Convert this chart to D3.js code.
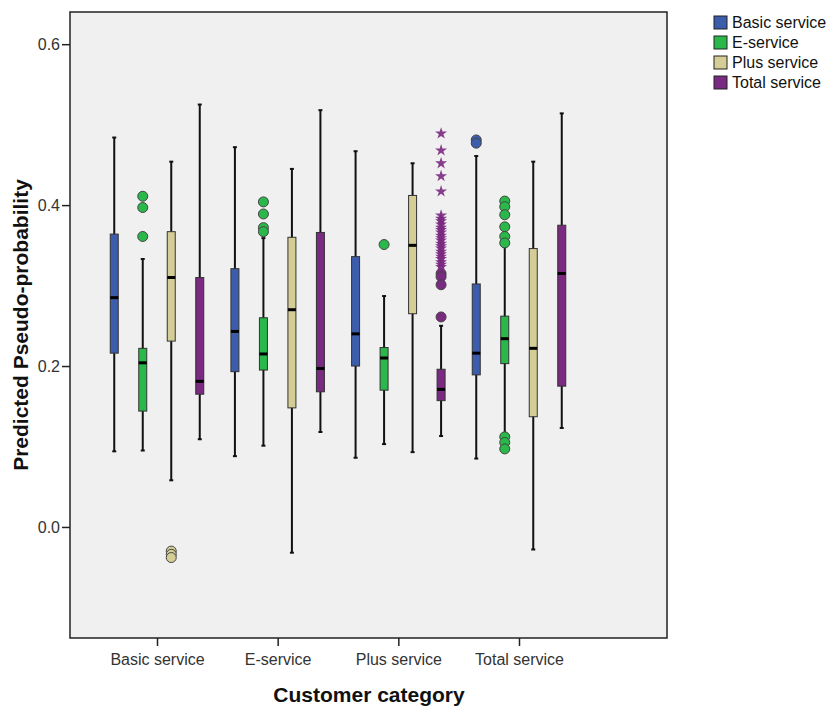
<!DOCTYPE html>
<html>
<head>
<meta charset="utf-8">
<script src="https://cdn.jsdelivr.net/npm/d3@7"></script>
<style>
  body { margin: 0; background: #fff; }
  svg { font-family: "Liberation Sans", Arial, sans-serif; }
  .axis text { font-size: 16px; fill: #333; }
  .axis line { stroke: #222; stroke-width: 1.5; }
  .axis .domain { display: none; }
</style>
</head>
<body>
<div id="chart"></div>
<script>
// categories on the x axis and the four series in each cluster
const categories = ["Basic service", "E-service", "Plus service", "Total service"];
const series = ["Basic service", "E-service", "Plus service", "Total service"];
const colors = ["#3b5dab", "#2bb84a", "#d4cd96", "#7a2a81"];
const yTicks = [0.0, 0.2, 0.4, 0.6];

// [whisker low, Q1, median, Q3, whisker high] for each category
const basicBoxes = [
  [0.094, 0.216, 0.285, 0.364, 0.484],
  [0.088, 0.193, 0.243, 0.321, 0.472],
  [0.086, 0.200, 0.240, 0.336, 0.467],
  [0.085, 0.189, 0.216, 0.302, 0.461]
];
const eBoxes = [
  [0.095, 0.144, 0.204, 0.222, 0.333],
  [0.101, 0.195, 0.215, 0.260, 0.359],
  [0.103, 0.170, 0.210, 0.223, 0.287],
  [0.116, 0.203, 0.234, 0.262, 0.348]
];
const plusBoxes = [
  [0.058, 0.231, 0.310, 0.367, 0.454],
  [-0.032, 0.148, 0.270, 0.360, 0.445],
  [0.093, 0.265, 0.350, 0.412, 0.452],
  [-0.028, 0.137, 0.222, 0.346, 0.454]
];
const totalBoxes = [
  [0.109, 0.165, 0.181, 0.310, 0.525],
  [0.118, 0.168, 0.197, 0.366, 0.518],
  [0.113, 0.157, 0.171, 0.196, 0.250],
  [0.123, 0.175, 0.315, 0.375, 0.514]
];

// outliers (circles): [category index, series index, value]
const outliers = [
  [0, 1, 0.411], [0, 1, 0.397], [0, 1, 0.361],
  [0, 2, -0.030], [0, 2, -0.034], [0, 2, -0.038],
  [1, 1, 0.404], [1, 1, 0.389], [1, 1, 0.372], [1, 1, 0.367],
  [2, 1, 0.351],
  [2, 3, 0.315], [2, 3, 0.311], [2, 3, 0.301], [2, 3, 0.261],
  [3, 0, 0.481], [3, 0, 0.477],
  [3, 1, 0.405], [3, 1, 0.398], [3, 1, 0.388], [3, 1, 0.373], [3, 1, 0.361], [3, 1, 0.353],
  [3, 1, 0.112], [3, 1, 0.105], [3, 1, 0.097]
];
// extreme values (stars) for Total service in Plus service
const extremes = [0.489, 0.468, 0.452, 0.436, 0.417, 0.387, 0.383, 0.380, 0.376,
  0.372, 0.369, 0.366, 0.362, 0.359, 0.356, 0.352, 0.349, 0.346, 0.342, 0.339,
  0.336, 0.333, 0.329, 0.326, 0.323];

const allBoxes = [basicBoxes, eBoxes, plusBoxes, totalBoxes];

const W = 831, H = 706;
const margin = { top: 12, left: 70, right: 164, bottom: 68 };
const width = W - margin.left - margin.right,
      height = H - margin.top - margin.bottom;

const svg = d3.select("#chart").append("svg")
  .attr("width", W).attr("height", H);

const g = svg.append("g")
  .attr("transform", `translate(${margin.left},${margin.top})`);

g.append("rect")
  .attr("width", width).attr("height", height)
  .attr("fill", "#f0f0f0");

const x = d3.scalePoint().domain(categories).range([87, 449]);
const xs = d3.scaleBand().domain(series).range([-57, 57]);
const y = d3.scaleLinear().domain([-0.138, 0.64]).range([height, 0]);
const boxW = 8;
const cx = (ci, si) => x(categories[ci]) + xs(series[si]) + xs.bandwidth() / 2;

// axes
g.append("g").attr("class", "axis")
  .call(d3.axisLeft(y).tickValues(yTicks).tickFormat(d3.format(".1f")).tickSize(8).tickPadding(2));

g.append("g").attr("class", "axis")
  .attr("transform", `translate(0,${height})`)
  .call(d3.axisBottom(x).tickSize(8).tickPadding(8));

// boxes
allBoxes.forEach((boxes, si) => {
  boxes.forEach((b, ci) => {
    const c = cx(ci, si);
    const grp = g.append("g");
    grp.append("line")
      .attr("x1", c).attr("x2", c)
      .attr("y1", y(b[0])).attr("y2", y(b[4]))
      .attr("stroke", "#111").attr("stroke-width", 2);
    [b[0], b[4]].forEach(v => {
      grp.append("line")
        .attr("x1", c - 2).attr("x2", c + 2)
        .attr("y1", y(v)).attr("y2", y(v))
        .attr("stroke", "#111").attr("stroke-width", 2);
    });
    grp.append("rect")
      .attr("x", c - boxW / 2).attr("width", boxW)
      .attr("y", y(b[3])).attr("height", y(b[1]) - y(b[3]))
      .attr("fill", colors[si]).attr("stroke", "#333").attr("stroke-width", 1);
    grp.append("line")
      .attr("x1", c - boxW / 2).attr("x2", c + boxW / 2)
      .attr("y1", y(b[2])).attr("y2", y(b[2]))
      .attr("stroke", "#000").attr("stroke-width", 3);
  });
});

// outliers
g.selectAll(".outlier")
  .data(outliers)
  .enter().append("circle")
  .attr("class", "outlier")
  .attr("cx", d => cx(d[0], d[1]))
  .attr("cy", d => y(d[2]))
  .attr("r", 5)
  .attr("fill", d => colors[d[1]])
  .attr("stroke", "#444").attr("stroke-width", 1);

const star = d3.symbol().type(d3.symbolStar).size(45);
g.selectAll(".extreme")
  .data(extremes)
  .enter().append("path")
  .attr("class", "extreme")
  .attr("d", star)
  .attr("transform", d => `translate(${cx(2, 3)},${y(d)})`)
  .attr("fill", colors[3]).attr("opacity", 0.9);

// frame
g.append("rect")
  .attr("width", width).attr("height", height)
  .attr("fill", "none").attr("stroke", "#222").attr("stroke-width", 1.5);

// axis titles
svg.append("text")
  .attr("transform", `translate(28,${margin.top + height / 2}) rotate(-90)`)
  .attr("text-anchor", "middle")
  .attr("font-size", 21).attr("font-weight", "bold").attr("fill", "#111")
  .text("Predicted Pseudo-probability");

svg.append("text")
  .attr("x", 369).attr("y", 702)
  .attr("text-anchor", "middle")
  .attr("font-size", 21).attr("font-weight", "bold").attr("fill", "#111")
  .text("Customer category");

// legend
const legend = svg.append("g").attr("transform", "translate(714,16)");
series.forEach((s, i) => {
  const row = legend.append("g").attr("transform", `translate(0,${i * 20})`);
  row.append("rect")
    .attr("width", 13).attr("height", 13)
    .attr("fill", colors[i]).attr("stroke", "#222").attr("stroke-width", 1);
  row.append("text")
    .attr("x", 18).attr("y", 12)
    .attr("font-size", 16).attr("fill", "#111")
    .text(s);
});
</script>
</body>
</html>
